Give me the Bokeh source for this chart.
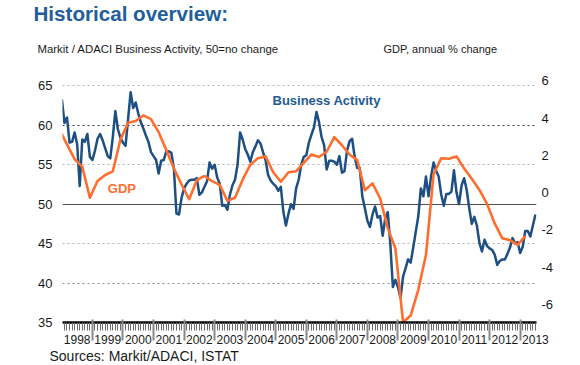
from bokeh.plotting import figure
from bokeh.layouts import column
from bokeh.models import Range1d, LinearAxis, FixedTicker, Grid, Label
from bokeh.embed import file_html
from bokeh.resources import INLINE

FONT = "Liberation Sans"
BLUE = "#1D4F82"
TITLE_BLUE = "#1F5E9C"
ORANGE = "#FF6E2E"
TEXT = "#1a1a1a"

# ---------------- data ----------------
first_year = 1998
year_labels = [str(y) for y in range(1998, 2014)]

# Markit/ADACI Business Activity index, monthly, Jan 1998 - Jul 2013
ba_values = [
    63.3, 60.3, 61.0, 57.8, 57.9, 59.1, 57.6, 52.3, 58.2, 57.9, 58.9, 56.0,   # 1998
    55.6, 56.8, 58.3, 58.9, 58.1, 57.1, 56.1, 55.8, 58.5, 61.8, 59.5, 58.4,   # 1999
    57.8, 57.4, 60.8, 64.2, 62.2, 62.9, 61.5, 60.4, 59.6, 58.7, 57.9, 56.6,   # 2000
    56.1, 55.6, 53.9, 55.5, 55.6, 56.7, 56.7, 56.5, 54.5, 48.8, 48.7, 50.8,   # 2001
    52.0, 52.6, 53.0, 53.1, 53.1, 53.3, 51.2, 51.5, 52.2, 52.9, 55.3, 54.5,   # 2002
    55.0, 53.4, 52.6, 49.8, 49.9, 49.3, 51.2, 52.4, 53.1, 55.0, 59.1, 58.2,   # 2003
    57.0, 56.3, 55.4, 56.6, 57.3, 58.1, 57.7, 56.6, 55.6, 53.7, 53.0, 52.6,   # 2004
    52.3, 51.7, 52.2, 49.0, 47.3, 48.8, 50.0, 49.4, 52.0, 53.1, 55.0, 56.0,   # 2005
    56.2, 57.8, 58.8, 59.7, 61.7, 60.4, 58.5, 57.5, 54.4, 55.5, 55.5, 55.4,   # 2006
    55.0, 56.1, 54.0, 54.2, 56.8, 58.0, 58.3, 56.0, 54.6, 54.6, 51.0, 49.5,   # 2007
    47.9, 47.1, 48.7, 49.7, 48.3, 48.5, 46.0, 48.2, 49.0, 45.0, 39.5, 40.4,   # 2008
    39.5, 38.1, 40.8, 41.9, 43.0, 42.6, 44.5, 46.5, 48.5, 52.0, 51.0, 53.5,   # 2009
    51.0, 53.5, 55.3, 54.2, 53.5, 51.2, 49.8, 51.3, 51.3, 51.6, 54.3, 51.5,   # 2010
    50.0, 52.4, 53.3, 51.8, 49.5, 47.5, 48.4, 47.3, 45.1, 44.0, 45.5, 44.7,   # 2011
    44.4, 44.2, 43.6, 42.3, 42.8, 43.0, 43.0, 43.7, 44.5, 45.7, 45.0, 45.2,   # 2012
    43.8, 44.6, 46.6, 46.6, 45.9, 47.3, 48.7,                                 # 2013
]

# GDP, annual % change, quarterly, 1997 Q4 - 2013 Q1 (plotted at quarter end)
gdp_values = [
    3.4,
    2.6, 1.8, 1.4, -0.27,      # 1998
    0.63, 0.95, 1.15, 2.85,    # 1999
    3.76, 3.85, 4.15, 3.95,    # 2000
    3.25, 2.3, 1.3, 0.45,      # 2001
    -0.35, 0.68, 0.9, 0.62,    # 2002
    0.42, -0.43, -0.27, 0.7,   # 2003
    1.5, 1.85, 1.95, 1.1,      # 2004
    0.59, 1.1, 1.15, 1.6,      # 2005
    2.05, 1.92, 2.2, 2.98,     # 2006
    2.55, 2.05, 1.75, 0.13,    # 2007
    0.5, -0.3, -1.9, -3.0,     # 2008
    -6.95, -6.6, -5.2, -3.35,  # 2009
    1.0, 1.85, 1.82, 1.95,     # 2010
    1.3, 0.75, 0.15, -0.6,     # 2011
    -1.65, -2.45, -2.55, -2.8, # 2012
    -2.33,                     # 2013
]

left_ticks = [35, 40, 45, 50, 55, 60, 65]
right_ticks = [-6, -4, -2, 0, 2, 4, 6]
grid_light = [45, 55, 65]
grid_mid = [40]
grid_dark = [60]
grid_base = [50]

ba_x = [first_year + i / 12 for i in range(len(ba_values))]
gdp_x = [first_year + (3 * k - 1) / 12 for k in range(len(gdp_values))]
year_bounds = [int(y) for y in year_labels[1:]]
year_mid = [int(y) + 0.5 for y in year_labels]
month_ticks = [first_year + i / 12 for i in range(1, 187)]


def blank(fig):
    fig.outline_line_color = None
    fig.background_fill_color = "white"
    fig.border_fill_color = "white"


def add_text(fig, x, y, text, size, color=TEXT, bold=False):
    fig.add_layout(Label(x=x, y=y, x_units="screen", y_units="screen", text=text,
                         text_font=FONT, text_font_size=size,
                         text_font_style="bold" if bold else "normal",
                         text_color=color, text_baseline="alphabetic"))


# ---------------- header ----------------
head = figure(width=580, height=62, x_range=Range1d(0, 1), y_range=Range1d(0, 1),
              x_axis_type=None, y_axis_type=None, output_backend="svg",
              toolbar_location=None, min_border=0, frame_align=False)
blank(head)
add_text(head, 33, 49.4, "Historical overview:", "20.6px", TITLE_BLUE, True)
add_text(head, 37, 13.1, "Markit / ADACI  Business Activity, 50=no change", "11.4px")
add_text(head, 383, 13.7, "GDP, annual % change", "11px")

# ---------------- main chart ----------------
p = figure(width=580, height=287,
           x_range=Range1d(1998.02, 2013.535), y_range=Range1d(35, 65.81),
           x_axis_type=None, y_axis_type=None,
           output_backend="svg", toolbar_location=None, frame_align=False,
           min_border_left=62, min_border_right=44,
           min_border_top=17, min_border_bottom=27)
blank(p)
p.extra_y_ranges = {"gdp": Range1d(-6.97, 6.08)}

for ticks, color, dash in [(grid_light, "#b4b4b4", "2 3"),
                           (grid_mid, "#8c8c8c", "2 3"),
                           (grid_dark, "#3c3c3c", "2 3"),
                           (grid_base, "#505050", "solid")]:
    p.add_layout(Grid(dimension=1, ticker=FixedTicker(ticks=ticks),
                      grid_line_color=color, grid_line_dash=dash,
                      grid_line_width=1))

# x axis: thick line, monthly ticks, year labels centred in each year
xaxis = LinearAxis(ticker=FixedTicker(ticks=year_mid, minor_ticks=month_ticks),
                   axis_line_color="black", axis_line_width=2.5,
                   major_tick_in=0, major_tick_out=0,
                   minor_tick_in=0, minor_tick_out=8,
                   minor_tick_line_color="#6a6a6a", minor_tick_line_width=1,
                   major_label_standoff=4, major_label_text_font=FONT,
                   major_label_text_font_size="12px", major_label_text_color=TEXT,
                   major_label_overrides=dict(zip(year_mid, year_labels)))
p.add_layout(xaxis, "below")
# long year-boundary ticks (drawn upward from the outer edge of the label band)
yticks = LinearAxis(ticker=FixedTicker(ticks=[], minor_ticks=year_bounds),
                    axis_line_color=None, major_tick_line_color=None,
                    major_tick_in=0, major_tick_out=0,
                    minor_tick_in=27, minor_tick_out=-6,
                    minor_tick_line_color="#8a8a8a", minor_tick_line_width=2)
p.add_layout(yticks, "below")

yl = LinearAxis(ticker=FixedTicker(ticks=left_ticks),
                axis_line_color=None, major_tick_line_color=None,
                minor_tick_line_color=None, major_tick_in=0, major_tick_out=0,
                major_label_standoff=10, major_label_text_font=FONT,
                major_label_text_font_size="13px", major_label_text_color=TEXT)
p.add_layout(yl, "left")

yr = LinearAxis(y_range_name="gdp", ticker=FixedTicker(ticks=right_ticks),
                axis_line_color=None, major_tick_line_color=None,
                minor_tick_line_color=None, major_tick_in=0, major_tick_out=0,
                major_label_standoff=5, major_label_text_font=FONT,
                major_label_text_font_size="13px", major_label_text_color=TEXT,
                major_label_overrides={t: str(t) for t in right_ticks})
p.add_layout(yr, "right")

p.line(ba_x, ba_values, line_color=BLUE, line_width=2.5, line_join="round")
p.line(gdp_x, gdp_values, y_range_name="gdp", line_color=ORANGE,
       line_width=2.6, line_join="round")

add_text(p, 210, 222.4, "Business Activity", "13px", "#1F5A94", True)
add_text(p, 45.3, 134, "GDP", "13px", ORANGE, True)

# ---------------- footer ----------------
foot = figure(width=580, height=16, x_range=Range1d(0, 1), y_range=Range1d(0, 1),
              x_axis_type=None, y_axis_type=None, output_backend="svg",
              toolbar_location=None, min_border=0, frame_align=False)
blank(foot)
add_text(foot, 49, 9.5, "Sources: Markit/ADACI, ISTAT", "14px")

layout = column(head, p, foot, spacing=0)
open("out.html", "w").write(file_html(layout, INLINE))
